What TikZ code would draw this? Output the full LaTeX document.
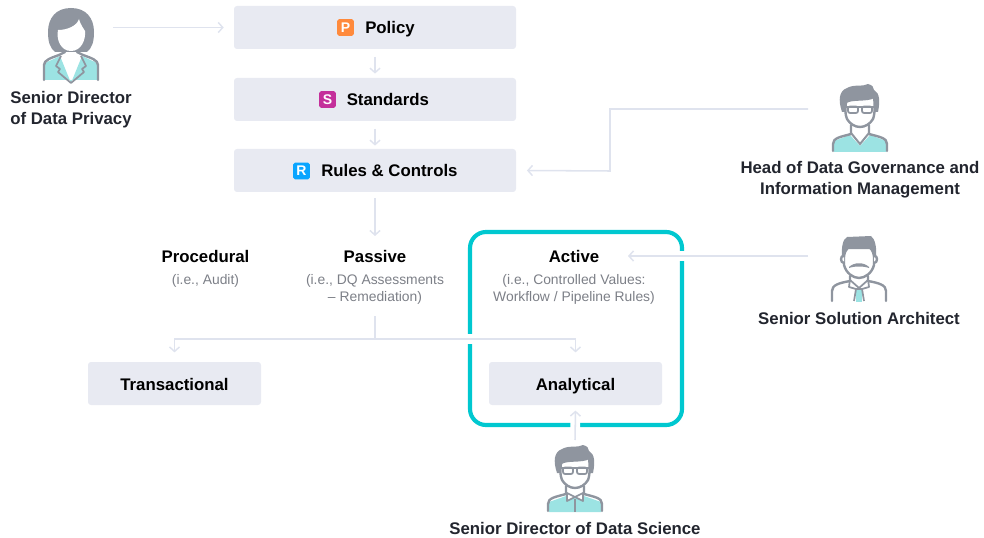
\documentclass[tikz,border=0pt]{standalone}
\usepackage{fontspec}
\setmainfont{Liberation Sans}
\usetikzlibrary{arrows.meta}
\definecolor{boxfill}{HTML}{E8EAF2}
\definecolor{linec}{HTML}{DFE3EE}
\definecolor{teal}{HTML}{00C8D0}
\definecolor{iconc}{HTML}{8F959F}
\definecolor{shirt}{HTML}{9CE3E3}
\definecolor{labelc}{HTML}{22252E}
\definecolor{subc}{HTML}{7C7F87}
\definecolor{pbadge}{HTML}{FF8A3C}
\definecolor{sbadge}{HTML}{C4309B}
\definecolor{rbadge}{HTML}{0AA5FF}
\tikzset{
  x=0.75pt,y=-0.75pt,
  panel/.style={fill=boxfill,rounded corners=2.2pt,inner sep=0pt},
  boxtext/.style={font=\bfseries\fontsize{12.6}{14}\selectfont,text=black,inner sep=0pt,anchor=base},
  persontext/.style={font=\bfseries\fontsize{12.6}{15.75}\selectfont,text=labelc,align=center,inner sep=0pt},
  head/.style={font=\bfseries\fontsize{12.6}{14}\selectfont,text=black,inner sep=0pt,anchor=base},
  subtext/.style={font=\fontsize{10.4}{12.75}\selectfont,text=subc,align=center,inner sep=0pt},
  badge/.style={minimum size=12.6pt,inner sep=0pt,rounded corners=1.4pt,text=white,font=\bfseries\fontsize{10.5}{11}\selectfont},
  conn/.style={draw=linec,line width=1.15pt,-{Straight Barb[length=3.4pt,width=7.6pt,line width=1.1pt]}},
  halo/.style={preaction={draw=white,line width=7.4pt,-}},
  plainconn/.style={draw=linec,line width=1.15pt},
  ic/.style={draw=iconc,line width=1.8pt,line join=round,line cap=round},
  pics/hairman/.style={code={
    \fill[iconc] (-18,28) .. controls (-22,16) and (-21,7) .. (-13,4) .. controls (-6,0) and (3,3) .. (8,0)
      .. controls (12,1) and (14,3) .. (14,6) .. controls (20,9) and (20,18) .. (18,28) -- cycle;
    \draw[ic,fill=white] (-14,18) .. controls (-8,14) and (6,17) .. (14,13) .. controls (15,20) and (15,30) .. (13,35)
      .. controls (10,40) and (5,43) .. (0,43) .. controls (-5,43) and (-10,40) .. (-13,35) .. controls (-15,30) and (-15,25) .. (-14,18) -- cycle;
    \draw[draw=iconc,line width=1.6pt] (-16,23) -- (16,23);
    \draw[draw=iconc,line width=1.3pt,fill=white,rounded corners=1.5pt] (-12,22.5) rectangle (-2,29);
    \draw[draw=iconc,line width=1.3pt,fill=white,rounded corners=1.5pt] (2,22.5) rectangle (12,29);
    \draw[draw=iconc,line width=2.2pt] (-12,23) -- (-2,23) (2,23) -- (12,23);
  }},
  pics/womanicon/.style={code={
    \fill[iconc] (0,0) .. controls (15,0) and (23,10) .. (23,24) .. controls (23,34) and (21,40) .. (16,44)
      -- (-16,44) .. controls (-21,40) and (-23,34) .. (-23,24) .. controls (-23,10) and (-15,0) .. (0,0) -- cycle;
    \fill[white] (-13,22) .. controls (-4,22) and (6,18) .. (8,11) .. controls (10,18) and (13,21) .. (14,23)
      .. controls (15,32) and (10,43) .. (0,43) .. controls (-10,43) and (-15,32) .. (-13,22) -- cycle;
    \fill[shirt] (-26,72) -- (-26,55) -- (-11,48) -- (0,75) -- (11,48) -- (26,55) -- (26,72) -- cycle;
    \fill[white] (-8,47) -- (8,47) -- (0,72) -- cycle;
    \draw[ic] (-27,72) -- (-27,57) .. controls (-27,52) and (-20,50) .. (-12,47) -- (-6,44) (6,44) -- (12,47)
      .. controls (20,50) and (27,52) .. (27,57) -- (27,72);
    \draw[draw=iconc,line width=1.3pt,line join=round] (-10,48) -- (-15,58) -- (-11,61) -- (-13,64) -- (0,75) -- (13,64) -- (11,61) -- (15,58) -- (10,48);
    \draw[draw=white,line width=1.2pt] (-8,47) -- (0,70) -- (8,47);
  }}
}
\begin{document}
\begin{tikzpicture}
\useasboundingbox (0,0) rectangle (984,538);
% teal frame
\draw[teal,line width=3.1pt,rounded corners=12pt] (470,232) rectangle (682,425);
% panels
\node[panel,minimum width=211.5pt,minimum height=32.25pt] (policy) at (375,27.5) {};
\node[panel,minimum width=211.5pt,minimum height=32.25pt] (standards) at (375,99.5) {};
\node[panel,minimum width=211.5pt,minimum height=32.25pt] (rules) at (375,170.5) {};
\node[panel,minimum width=129.75pt,minimum height=32.25pt] (trans) at (174.5,383.5) {};
\node[panel,minimum width=129.75pt,minimum height=32.25pt] (analytical) at (575.5,383.5) {};
% badges
\node[badge,fill=pbadge] (bp) at (345.5,27.5) {P};
\node[boxtext,anchor=base west] (policytext) at (365,34) {Policy};
\node[badge,fill=sbadge] (bs) at (327.5,99.5) {S};
\node[boxtext,anchor=base west] (standardstext) at (346.5,106) {Standards};
\node[badge,fill=rbadge] (br) at (301.5,171) {R};
\node[boxtext,anchor=base west] (rulestext) at (321,177) {Rules \& Controls};
\node[boxtext] (transtext) at (174.5,390) {Transactional};
\node[boxtext] (analyticaltext) at (575.5,390) {Analytical};
% categories
\node[head] (procedural) at (205.5,262.5) {Procedural};
\node[subtext] (proceduralsub) at (205.5,280.5) {(i.e., Audit)};
\node[head] (passive) at (375,262.5) {Passive};
\node[subtext] (passivesub) at (375,289) {(i.e., DQ Assessments\\– Remediation)};
\node[head] (active) at (574,262.5) {Active};
\node[subtext] (activesub) at (574,289) {(i.e., Controlled Values:\\Workflow / Pipeline Rules)};
% people
\pic at (71,8) {womanicon};
\pic at (860,84) {hairman};
\begin{scope}[shift={(860,84)}]
  \fill[shirt] (-26,68) -- (-26,57) -- (-10,51) -- (0,62) -- (10,51) -- (26,57) -- (26,68) -- cycle;
  \draw[ic] (-27,67) -- (-27,60) .. controls (-27,54) and (-20,53) .. (-9,50) -- (-9,41) (9,41) -- (9,50) .. controls (20,53) and (27,54) .. (27,60) -- (27,67);
  \draw[draw=iconc,line width=1.5pt] (-9,49) -- (0,60) -- (9,49);
\end{scope}
\begin{scope}[shift={(859,235)}]
  \fill[iconc] (-17,24) .. controls (-18,12) and (-16,4) .. (-12,2) -- (12,1) .. controls (16,4) and (18,12) .. (17,24) -- cycle;
  \draw[ic,fill=white] (-15,22) .. controls (-15,20) and (-14,15) .. (-11,13) -- (11,13) .. controls (14,15) and (15,20) .. (15,22) -- (15,30)
     .. controls (13,38) and (6,43) .. (0,43) .. controls (-6,43) and (-13,38) .. (-15,30) -- cycle;
  \draw[ic,fill=white] (-15,21) .. controls (-19,20) and (-19,28) .. (-15,28);
  \draw[ic,fill=white] (15,21) .. controls (19,20) and (19,28) .. (15,28);
  \fill[iconc] (-10,32) .. controls (-5,27) and (5,27) .. (10,32) -- (10,33) .. controls (5,31) and (-5,31) .. (-10,33) -- cycle;
  \fill[shirt] (-3,54) -- (3,54) -- (3,67) -- (-3,67) -- cycle;
  \draw[ic] (-27,66) -- (-27,56) .. controls (-27,50) and (-20,48) .. (-9,46) -- (-9,41) (9,41) -- (9,46) .. controls (20,48) and (27,50) .. (27,56) -- (27,66);
  \draw[draw=iconc,line width=1.3pt,line join=round] (-9,44) -- (-10,52) -- (-3,54) -- (3,54) -- (10,52) -- (9,44) (-9,45) -- (0,53) -- (9,45) (-3,54) -- (-5,66) (3,54) -- (5,66);
\end{scope}
\pic at (575,445) {hairman};
\begin{scope}[shift={(575,445)}]
  \fill[shirt] (-26,67) -- (-26,57) -- (-9,51) -- (9,51) -- (26,57) -- (26,67) -- cycle;
  \draw[ic] (-27,66) -- (-27,59) .. controls (-27,53) and (-20,52) .. (-9,49) -- (-9,41) (9,41) -- (9,49) .. controls (20,52) and (27,53) .. (27,59) -- (27,66);
  \draw[draw=iconc,line width=1.3pt,fill=white,line join=round] (0,52) -- (-8,48) -- (-8,56) -- cycle (0,52) -- (8,48) -- (8,56) -- cycle;
  \draw[draw=iconc,line width=1.5pt] (0,54) -- (0,67);
\end{scope}
\node[persontext] (woman) at (71,109.5) {Senior Director\\of Data Privacy};
\node[persontext] (headgov) at (860,179.5) {Head of Data Governance and\\Information Management};
\node[persontext] (architect) at (859,318) {Senior Solution Architect};
\node[persontext] (science) at (575,528) {Senior Director of Data Science};
% connector ends
\coordinate (womanout) at (113,27.5);
\coordinate (headout) at (808,109);
\coordinate (archout) at (808,256);
\coordinate (activetip) at (628,256);
\coordinate (sciout) at (575,440);
\coordinate (split) at (375,339);
\coordinate (passout) at (375,316);
% connectors
\draw[conn] (womanout) -- ([xshift=-7.5pt]policy.west);
\draw[conn] ([yshift=-5.5pt]policy.south) -- ++(0,17);
\draw[conn] ([yshift=-5.5pt]standards.south) -- ++(0,17);
\draw[conn] ([yshift=-4.5pt]rules.south) -- (375,236);
\draw[conn] (headout) -| (610,171) -- ([xshift=8pt]rules.east);
\draw[conn,halo] (archout) -- (activetip);
\draw[conn,halo] (split) -| ([yshift=7pt]analytical.north);
\draw[conn] (split) -| ([yshift=7pt]trans.north);
\draw[plainconn] (passout) -- (split);
\draw[conn,halo] (sciout) -- ([yshift=-4pt]analytical.south);
\end{tikzpicture}
\end{document}
